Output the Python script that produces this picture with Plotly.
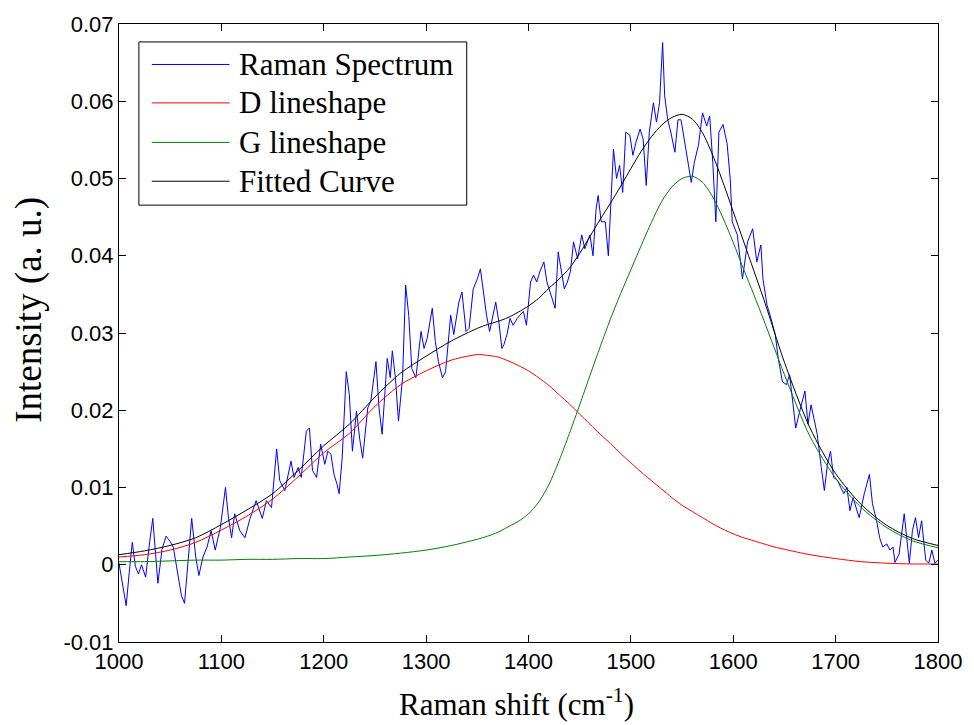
import plotly.graph_objects as go

# Measured Raman spectrum (wavenumber in cm^-1, intensity in a.u.)
raman_x = [
    1000, 1004, 1007, 1010, 1013, 1016, 1019, 1022, 1026, 1030, 1033, 1038, 1042, 1046,
    1050, 1053, 1057, 1061, 1064, 1068, 1071, 1075, 1078, 1082, 1086, 1090, 1094, 1099,
    1104, 1107, 1110, 1113, 1118, 1123, 1128, 1134, 1140, 1144, 1149, 1154, 1157, 1162,
    1168, 1171, 1175, 1178, 1183, 1186, 1189, 1193, 1197, 1201, 1204, 1207, 1210, 1213,
    1215, 1218, 1222, 1225, 1228, 1232, 1235, 1238, 1243, 1246, 1251, 1254, 1257, 1262,
    1265, 1267, 1270, 1273, 1277, 1280, 1283, 1286, 1290, 1295, 1298, 1301, 1306, 1309,
    1312, 1316, 1319, 1324, 1327, 1332, 1335, 1339, 1342, 1346, 1350, 1353, 1356, 1359,
    1362, 1368, 1371, 1374, 1376, 1379, 1382, 1385, 1389, 1392, 1395, 1398, 1402, 1405,
    1408, 1411, 1415, 1418, 1422, 1426, 1429, 1432, 1435, 1438, 1441, 1444, 1448, 1452,
    1455, 1460, 1463, 1466, 1468, 1471, 1475, 1478, 1483, 1486, 1489, 1492, 1495, 1499,
    1502, 1505, 1509, 1512, 1515, 1518, 1522, 1525, 1528, 1531, 1533, 1536, 1539, 1543,
    1546, 1549, 1552, 1556, 1559, 1562, 1566, 1570, 1574, 1577, 1580, 1583, 1586, 1590,
    1594, 1597, 1599, 1604, 1609, 1614, 1619, 1623, 1627, 1629, 1633, 1636, 1641, 1644,
    1648, 1652, 1655, 1658, 1661, 1665, 1670, 1673, 1676, 1680, 1682, 1686, 1689, 1692,
    1695, 1698, 1702, 1705, 1708, 1711, 1714, 1717, 1723, 1728, 1733, 1736, 1740, 1743,
    1746, 1750, 1753, 1756, 1758, 1762, 1767, 1772, 1775, 1778, 1781, 1784, 1788, 1791,
    1794, 1797, 1800,
]
raman_y = [
    0.0002, -0.0030, -0.0053, -0.0010, 0.0029, -0.0002, -0.0012, 0.0000, -0.0016, 0.0030,
    0.0060, -0.0024, 0.0020, 0.0037, 0.0030, 0.0023, -0.0010, -0.0040, -0.0050, 0.0010,
    0.0060, 0.0010, -0.0014, 0.0010, 0.0023, 0.0044, 0.0019, 0.0048, 0.0100, 0.0060,
    0.0035, 0.0066, 0.0044, 0.0035, 0.0060, 0.0083, 0.0060, 0.0083, 0.0074, 0.0150,
    0.0109, 0.0096, 0.0134, 0.0113, 0.0126, 0.0113, 0.0173, 0.0177, 0.0122, 0.0113,
    0.0156, 0.0130, 0.0147, 0.0143, 0.0117, 0.0104, 0.0092, 0.0138, 0.0250, 0.0220,
    0.0147, 0.0199, 0.0164, 0.0138, 0.0203, 0.0212, 0.0263, 0.0203, 0.0169, 0.0267,
    0.0242, 0.0277, 0.0242, 0.0186, 0.0242, 0.0362, 0.0323, 0.0254, 0.0242, 0.0302,
    0.0280, 0.0293, 0.0332, 0.0289, 0.0263, 0.0242, 0.0250, 0.0323, 0.0298, 0.0340,
    0.0353, 0.0302, 0.0306, 0.0357, 0.0370, 0.0383, 0.0353, 0.0323, 0.0302, 0.0340,
    0.0315, 0.0280, 0.0285, 0.0298, 0.0319, 0.0310, 0.0319, 0.0323, 0.0328, 0.0310,
    0.0366, 0.0375, 0.0366, 0.0379, 0.0392, 0.0366, 0.0349, 0.0332, 0.0405, 0.0383,
    0.0357, 0.0366, 0.0380, 0.0418, 0.0396, 0.0427, 0.0409, 0.0427, 0.0400, 0.0460,
    0.0478, 0.0444, 0.0444, 0.0400, 0.0538, 0.0500, 0.0517, 0.0482, 0.0560, 0.0556,
    0.0530, 0.0547, 0.0564, 0.0551, 0.0491, 0.0560, 0.0598, 0.0573, 0.0598, 0.0676,
    0.0607, 0.0576, 0.0560, 0.0534, 0.0576, 0.0576, 0.0551, 0.0521, 0.0495, 0.0521,
    0.0543, 0.0585, 0.0568, 0.0581, 0.0521, 0.0444, 0.0560, 0.0570, 0.0545, 0.0500,
    0.0444, 0.0427, 0.0370, 0.0418, 0.0435, 0.0392, 0.0414, 0.0370, 0.0336, 0.0323,
    0.0298, 0.0267, 0.0237, 0.0233, 0.0246, 0.0212, 0.0177, 0.0199, 0.0225, 0.0182,
    0.0207, 0.0182, 0.0169, 0.0126, 0.0096, 0.0130, 0.0147, 0.0113, 0.0109, 0.0100,
    0.0092, 0.0100, 0.0070, 0.0087, 0.0061, 0.0092, 0.0117, 0.0079, 0.0057, 0.0035,
    0.0023, 0.0027, 0.0019, 0.0023, 0.0003, 0.0014, 0.0066, 0.0002, 0.0044, 0.0061,
    0.0035, 0.0057, 0.0006, 0.0002, 0.0019, 0.0002, 0.0006,
]

# Fitted components sampled on a common wavenumber grid (finer around the bands)
fit_x = [
    1000, 1025, 1050, 1075, 1100, 1125, 1150, 1175, 1200, 1225, 1250, 1275, 1300, 1325,
    1350, 1360, 1370, 1380, 1390, 1400, 1410, 1420, 1430, 1440, 1450, 1460, 1470, 1480,
    1490, 1500, 1510, 1520, 1530, 1540, 1550, 1560, 1570, 1580, 1590, 1600, 1610, 1620,
    1630, 1640, 1650, 1675, 1700, 1725, 1750, 1775, 1800,
]
d_band = [
    0.0010, 0.0013, 0.0019, 0.0029, 0.0045, 0.0063, 0.0085, 0.0114, 0.0145, 0.0170,
    0.0205, 0.0233, 0.0251, 0.0265,
    0.0272, 0.0271, 0.0269, 0.0264, 0.0258, 0.0251, 0.0242, 0.0232, 0.0220, 0.0208,
    0.0195, 0.0182, 0.0169, 0.0157, 0.0144, 0.0132, 0.0120, 0.0109, 0.0098, 0.0087,
    0.0077, 0.0069, 0.0061, 0.0053, 0.0046, 0.0040, 0.0035, 0.0031, 0.0027, 0.0023,
    0.0020, 0.0013, 0.0008, 0.0004, 0.0002, 0.0001, 0.0001,
]
g_band = [
    0.0004, 0.0004, 0.0005, 0.0006, 0.0006, 0.0007, 0.0007, 0.0008, 0.0008, 0.0010,
    0.0012, 0.0015, 0.0019, 0.0025,
    0.0033, 0.0037, 0.0042, 0.0049, 0.0056, 0.0066, 0.0081, 0.0104, 0.0135, 0.0170,
    0.0207, 0.0245, 0.0282, 0.0318, 0.0351, 0.0382, 0.0413, 0.0443, 0.0470, 0.0489,
    0.0500, 0.0503, 0.0495, 0.0476, 0.0449, 0.0417, 0.0383, 0.0350, 0.0316, 0.0281,
    0.0246, 0.0166, 0.0112, 0.0074, 0.0048, 0.0031, 0.0022,
]
fitted = [
    0.0013, 0.0018, 0.0025, 0.0035, 0.0052, 0.0071, 0.0092, 0.0122, 0.0154, 0.0182,
    0.0217, 0.0248, 0.0270, 0.0290,
    0.0306, 0.0311, 0.0315, 0.0320, 0.0327, 0.0335, 0.0345, 0.0358, 0.0370, 0.0384,
    0.0403, 0.0425, 0.0447, 0.0468, 0.0490, 0.0513, 0.0535, 0.0554, 0.0569, 0.0579,
    0.0583, 0.0577, 0.0559, 0.0530, 0.0495, 0.0457, 0.0419, 0.0381, 0.0343, 0.0302,
    0.0262, 0.0177, 0.0118, 0.0078, 0.0051, 0.0034, 0.0025,
]

series_names = ["Raman Spectrum", "D lineshape", "G lineshape", "Fitted Curve"]
series_colors = ["#0000ff", "#ff0000", "#008000", "#000000"]

x_ticks = [1000, 1100, 1200, 1300, 1400, 1500, 1600, 1700, 1800]
y_ticks = [-0.01, 0, 0.01, 0.02, 0.03, 0.04, 0.05, 0.06, 0.07]
y_tick_text = ["-0.01", "0", "0.01", "0.02", "0.03", "0.04", "0.05", "0.06", "0.07"]

serif = "Liberation Serif, Times New Roman, serif"
sans = "Liberation Sans, Arial, sans-serif"

fig = go.Figure()
fig.add_trace(go.Scatter(x=raman_x, y=raman_y, mode="lines", name=series_names[0],
                         line=dict(color=series_colors[0], width=1)))
for name, color, ys in zip(series_names[1:], series_colors[1:], [d_band, g_band, fitted]):
    fig.add_trace(go.Scatter(x=fit_x, y=ys, mode="lines", name=name,
                             line=dict(color=color, width=1, shape="spline", smoothing=0.8)))

# Boxed legend in the upper-left corner of the axes (paper coordinates)
legend_box = dict(x0=0.0243, x1=0.4246, y0=0.7069, y1=0.9710)
legend_rows = [0.9345, 0.8723, 0.8084, 0.7456]
sample_x = (0.0401, 0.1350)
text_x = 0.1440

shapes = [dict(type="rect", xref="paper", yref="paper", layer="above",
               line=dict(color="black", width=1), fillcolor="white", **legend_box)]
annotations = []
for name, color, ry in zip(series_names, series_colors, legend_rows):
    shapes.append(dict(type="line", xref="paper", yref="paper", layer="above",
                       x0=sample_x[0], x1=sample_x[1], y0=ry, y1=ry,
                       line=dict(color=color, width=1)))
    annotations.append(dict(text=name, xref="paper", yref="paper", x=text_x, y=ry,
                            xanchor="left", yanchor="middle", showarrow=False,
                            font=dict(family=serif, size=31, color="black")))

annotations += [
    dict(text="Raman shift (cm<sup>-1</sup>)", xref="paper", yref="paper",
         x=0.4848, y=-0.098, xanchor="center", yanchor="middle", showarrow=False,
         font=dict(family=serif, size=31, color="black")),
    dict(text="Intensity (a. u.)", xref="paper", yref="paper",
         x=-0.1107, y=0.538, xanchor="center", yanchor="middle", showarrow=False,
         textangle=-90, font=dict(family=serif, size=37, color="black")),
]

axis_common = dict(
    showgrid=False, zeroline=False, showline=True, linecolor="black", linewidth=1,
    mirror="ticks", ticks="inside", ticklen=7, tickcolor="black", tickwidth=1,
    tickfont=dict(family=sans, size=22, color="black"),
)

fig.update_layout(
    width=974, height=725,
    margin=dict(l=119, r=33, t=21, b=83),
    paper_bgcolor="white", plot_bgcolor="white",
    showlegend=False,
    xaxis=dict(range=[1000, 1800], tickvals=x_ticks, **axis_common),
    yaxis=dict(range=[-0.01, 0.07], tickvals=y_ticks, ticktext=y_tick_text, **axis_common),
    shapes=shapes,
    annotations=annotations,
)

fig.write_html("out.html")
